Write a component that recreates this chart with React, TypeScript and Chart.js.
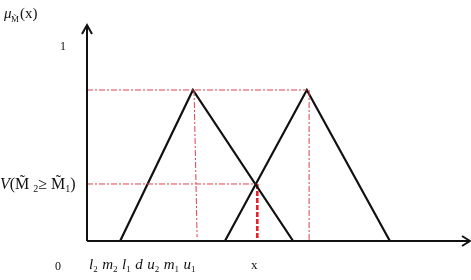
import React, { useEffect, useRef } from "react";
import { Chart, registerables } from "chart.js";

Chart.register(...registerables);

// Triangular fuzzy numbers (x positions in axis units, peak height)
const m2Tri = [0.87, 2.78, 5.41]; // l2, m2, u2 (left triangle)
const m1Tri = [3.62, 5.77, 7.95]; // l1, m1, u1 (right triangle)
const peakY = 0.776;
const dX = 4.47; // intersection point d
const vY = 0.293; // V(M2 >= M1)
const peak1Guide = [2.81, 2.89];
const peak2Guide = [5.83, 5.83];
const xRange = [0, 10];
const yRange = [0, 1.11];

const yAxisTitle = "μ";
const yAxisSub = "M̃";
const yAxisSuffix = "(x)";
const oneLabel = "1";
const zeroLabel = "0";
const xLabel = "x";
const vLabelParts = ["V", "(M̃ ", "2", "≥ M̃", "1", ")"];
const bottomLabels = [
  ["l", "2"],
  ["m", "2"],
  ["l", "1"],
  ["d", ""],
  ["u", "2"],
  ["m", "1"],
  ["u", "1"],
];

const BLACK = "#111";
const RED_DD = "#e0404a";
const RED = "#e31c24";

export default function App() {
  const ref = useRef<HTMLCanvasElement | null>(null);
  useEffect(() => {
    if (!ref.current) return;
    const tri = (v: number[]) => [
      { x: v[0], y: 0 },
      { x: v[1], y: peakY },
      { x: v[2], y: 0 },
    ];
    const ddash = [6, 2, 2, 2];
    const lineDs = (data: any[], color: string, width: number, dash: number[]) => ({
      data,
      showLine: true,
      borderColor: color,
      borderWidth: width,
      borderDash: dash,
      pointRadius: 0,
      tension: 0,
      fill: false,
    });

    const deco = {
      id: "deco",
      afterDatasetsDraw(chart: any) {
        const ctx = chart.ctx as CanvasRenderingContext2D;
        const { x: xs, y: ys } = chart.scales;
        const x0 = xs.getPixelForValue(xRange[0]);
        const y0 = ys.getPixelForValue(0);
        const top = chart.chartArea.top;
        const right = chart.chartArea.right + 2;
        ctx.save();
        ctx.strokeStyle = BLACK;
        ctx.lineWidth = 2;
        ctx.setLineDash([]);
        ctx.beginPath();
        ctx.moveTo(x0, y0);
        ctx.lineTo(x0, top);
        ctx.moveTo(x0, y0);
        ctx.lineTo(right, y0);
        ctx.stroke();
        // arrow heads
        ctx.beginPath();
        ctx.moveTo(x0 - 5, top + 9);
        ctx.lineTo(x0, top);
        ctx.lineTo(x0 + 5, top + 9);
        ctx.moveTo(right - 8, y0 - 5);
        ctx.lineTo(right, y0);
        ctx.lineTo(right - 8, y0 + 5);
        ctx.stroke();

        ctx.fillStyle = BLACK;
        ctx.textBaseline = "alphabetic";
        const serif = "'Liberation Serif', 'DejaVu Serif', serif";
        // y axis title
        ctx.font = `italic 15px ${serif}`;
        ctx.fillText(yAxisTitle, 4, 18);
        ctx.font = `9px ${serif}`;
        ctx.fillText(yAxisSub, 11, 22);
        ctx.font = `15px ${serif}`;
        ctx.fillText(yAxisSuffix, 20, 18);
        // 1 tick
        ctx.font = `12px ${serif}`;
        ctx.fillText(oneLabel, 60, ys.getPixelForValue(1) + 4);
        // 0
        ctx.fillText(zeroLabel, 55, 270);
        // x label
        ctx.font = `13px ${serif}`;
        ctx.fillText(xLabel, 251, 269);
        // V label
        let cx = 0;
        const vy = ys.getPixelForValue(vY) + 5;
        vLabelParts.forEach((t, i) => {
          const sub = i === 2 || i === 4;
          ctx.font = i === 0 ? `italic 16px ${serif}` : sub ? `10px ${serif}` : `16px ${serif}`;
          ctx.fillText(t, cx, vy + (sub ? 3 : 0));
          cx += ctx.measureText(t).width;
        });
        // bottom labels
        cx = 89;
        bottomLabels.forEach(([main, sub]) => {
          ctx.font = `italic 15px ${serif}`;
          ctx.fillText(main, cx, 269);
          cx += ctx.measureText(main).width;
          if (sub) {
            ctx.font = `9px ${serif}`;
            ctx.fillText(sub, cx, 272);
            cx += ctx.measureText(sub).width;
          }
          cx += 4.5;
        });
        ctx.restore();
      },
    };

    const chart = new Chart(ref.current, {
      type: "scatter",
      data: {
        datasets: [
          lineDs([{ x: xRange[0], y: peakY }, { x: m1Tri[1], y: peakY }], RED_DD, 1, ddash),
          lineDs([{ x: peak1Guide[0], y: peakY }, { x: peak1Guide[1], y: 0.02 }], RED_DD, 1, ddash),
          lineDs([{ x: peak2Guide[0], y: peakY }, { x: peak2Guide[1], y: 0 }], RED_DD, 1, ddash),
          lineDs([{ x: xRange[0], y: vY }, { x: dX - 0.05, y: vY }], RED_DD, 1, ddash),
          lineDs(tri(m2Tri), BLACK, 2.2, []),
          lineDs(tri(m1Tri), BLACK, 2.2, []),
          lineDs([{ x: dX, y: vY }, { x: dX, y: 0 }], RED, 2.5, [5, 2]),
        ] as any,
      },
      options: {
        responsive: false,
        devicePixelRatio: 1,
        animation: false,
        layout: { padding: { left: 87, right: 3, top: 25, bottom: 39 } },
        plugins: { legend: { display: false }, tooltip: { enabled: false } },
        scales: {
          x: { type: "linear", min: xRange[0], max: xRange[1], display: false },
          y: { type: "linear", min: yRange[0], max: yRange[1], display: false },
        },
      },
      plugins: [deco],
    });
    return () => chart.destroy();
  }, []);
  return (
    <div style={{ position: "fixed", left: 0, top: 0, width: 471, height: 280, background: "#fff" }}>
      <canvas ref={ref} width={471} height={280} />
    </div>
  );
}
